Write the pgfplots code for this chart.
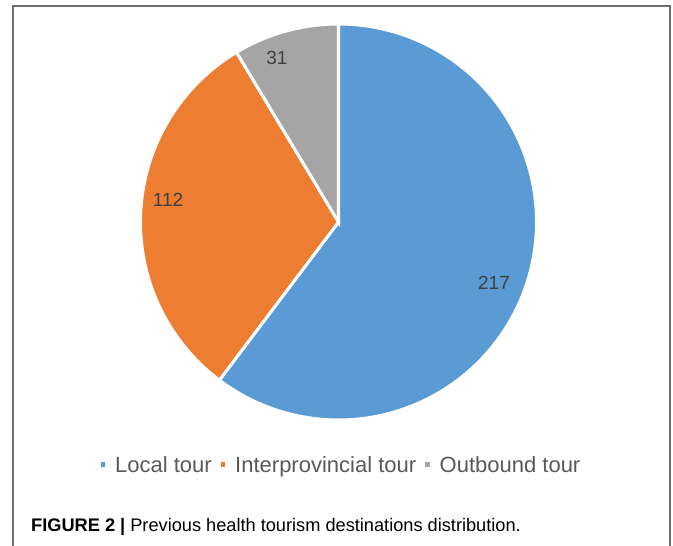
\documentclass[border=0pt]{standalone}
\usepackage{pgfplots}
\pgfplotsset{compat=1.18}
\usepackage{pgfplotstable}
\usepackage{fontspec}
\setmainfont{Liberation Sans}

\definecolor{localc}{HTML}{5B9BD5}
\definecolor{interc}{HTML}{ED7D31}
\definecolor{outc}{HTML}{A5A5A5}
\definecolor{labc}{HTML}{404040}
\definecolor{legc}{HTML}{595959}
\definecolor{framec}{HTML}{6E6E6E}

% previous health tourism destinations
\pgfplotstableread{
dest value
Local 217
Interprovincial 112
Outbound 31
}\tourdata

\begin{document}
\begin{tikzpicture}
  \pgfplotstablegetelem{0}{value}\of\tourdata \let\vA\pgfplotsretval
  \pgfplotstablegetelem{1}{value}\of\tourdata \let\vB\pgfplotsretval
  \pgfplotstablegetelem{2}{value}\of\tourdata \let\vC\pgfplotsretval
  \pgfmathsetmacro\total{\vA+\vB+\vC}
  % slices run clockwise from 12 o'clock
  \pgfmathsetmacro\aA{90}
  \pgfmathsetmacro\aB{\aA-\vA/\total*360}
  \pgfmathsetmacro\aC{\aB-\vB/\total*360}
  \pgfmathsetmacro\aD{\aC-\vC/\total*360}
  \def\cx{338.5}
  \def\cy{324}
  \def\rr{198}
  \begin{axis}[
      x=1bp, y=1bp,
      xmin=0, xmax=673, ymin=0, ymax=546,
      at={(0,0)}, anchor=south west,
      hide axis, clip=false,
      legend columns=3,
      legend image code/.code={\fill[#1] (0bp,-3.5bp) rectangle (7.5bp,4bp);},
      legend style={
        draw=none, fill=none,
        at={(axis cs:340,81)}, anchor=center,
        font=\fontsize{22bp}{24bp}\selectfont, text=legc,
        /tikz/every odd column/.append style={column sep=5bp},
        /tikz/every even column/.append style={column sep=4bp}
      }
    ]
    \addplot[fill=localc, draw=white, line width=3bp, domain=\aB:\aA, samples=200, variable=\t]
      ({\cx+\rr*cos(\t)}, {\cy+\rr*sin(\t)}) -- (\cx,\cy) -- cycle;
    \addlegendentry{Local tour}
    \addplot[fill=interc, draw=white, line width=3bp, domain=\aC:\aB, samples=120, variable=\t]
      ({\cx+\rr*cos(\t)}, {\cy+\rr*sin(\t)}) -- (\cx,\cy) -- cycle;
    \addlegendentry{Interprovincial tour}
    \addplot[fill=outc, draw=white, line width=3bp, domain=\aD:\aC, samples=40, variable=\t]
      ({\cx+\rr*cos(\t)}, {\cy+\rr*sin(\t)}) -- (\cx,\cy) -- cycle;
    \addlegendentry{Outbound tour}

    \node[text=labc, font=\fontsize{19bp}{20bp}\selectfont] at (494,263) {217};
    \node[text=labc, font=\fontsize{19bp}{20bp}\selectfont] at (168,346) {112};
    \node[text=labc, font=\fontsize{19bp}{20bp}\selectfont] at (277,488) {31};

    \draw[framec, line width=1.3bp] (13,0) -- (13,540) -- (670,540) -- (670,0);
    \node[anchor=base west, inner sep=0pt, font=\fontsize{18.2bp}{20bp}\selectfont]
      at (31,15) {\textbf{FIGURE 2 |} Previous health tourism destinations distribution.};
  \end{axis}
  \pgfresetboundingbox
  \path[use as bounding box] (0,0) rectangle (673bp,546bp);
\end{tikzpicture}
\end{document}
